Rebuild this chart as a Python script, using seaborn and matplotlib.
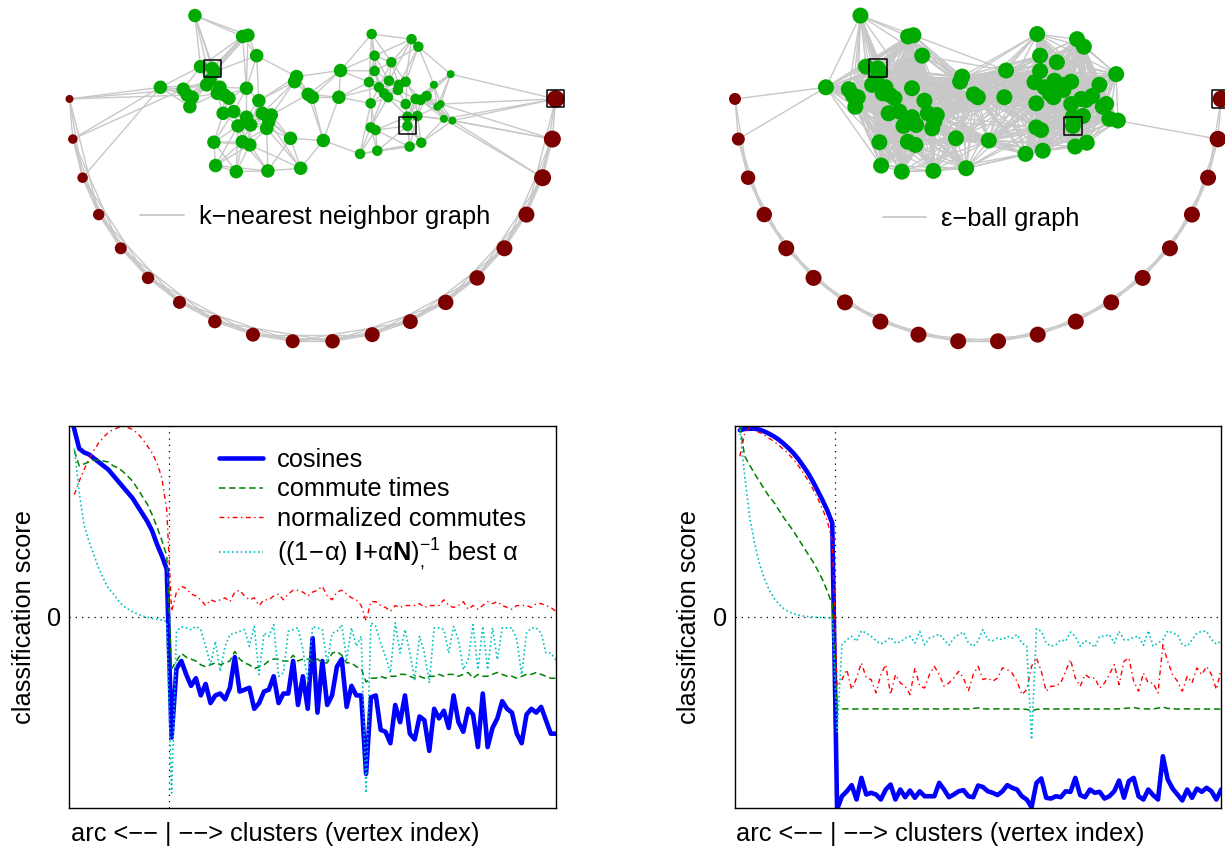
import numpy as np
import matplotlib
matplotlib.use("Agg")
import matplotlib.pyplot as plt
import seaborn as sns
from matplotlib.collections import LineCollection
from matplotlib.lines import Line2D

nan = np.nan

# ------------------------------------------------------------------ graph data
# arc vertices: angle on the unit semicircle (degrees)
arc_angle_deg = [180.0, 189.5, 198.9, 208.4, 217.9, 227.4, 236.8, 246.3, 255.8, 265.3,
                 274.7, 284.2, 293.7, 303.2, 312.6, 322.1, 331.6, 341.1, 350.5, 360.0]
# two clusters of vertices (same layout in both graphs)
cluster_x = [-0.484, -0.288, -0.266, -0.230, -0.461, -0.413, -0.403, -0.626, -0.532, -0.516,
             -0.495, -0.505, -0.436, -0.422, -0.381, -0.392, -0.362, -0.344, -0.272, -0.221,
             -0.368, -0.324, -0.307, -0.272, -0.255, -0.207, -0.170, -0.189, -0.180, -0.406,
             -0.289, -0.258, -0.091, -0.399, -0.314, -0.184, -0.049, -0.066, -0.074, -0.018,
             -0.001, 0.115, 0.108, 0.044,
             0.243, 0.407, 0.435, 0.255, 0.324, 0.255, 0.232, 0.314, 0.273, 0.294,
             0.310, 0.355, 0.383, 0.351, 0.568, 0.499, 0.239, 0.383, 0.424, 0.444,
             0.469, 0.513, 0.527, 0.390, 0.431, 0.390, 0.239, 0.259, 0.540, 0.575,
             0.195, 0.266, 0.399, 0.447]
cluster_y = [0.343, 0.257, 0.262, 0.178, 0.133, 0.126, 0.112, 0.048, 0.040, 0.016,
             0.007, -0.032, 0.058, 0.078, 0.048, 0.023, 0.016, 0.003, 0.044, -0.007,
             -0.059, -0.052, -0.111, -0.075, -0.107, -0.059, -0.066, -0.121, -0.093, -0.178,
             -0.176, -0.189, -0.162, -0.274, -0.299, -0.296, -0.285, 0.092, 0.071, 0.019,
             0.007, 0.117, 0.007, -0.171,
             0.267, 0.246, 0.215, 0.178, 0.151, 0.115, 0.069, 0.075, 0.048, 0.023,
             0.007, 0.058, 0.071, 0.037, 0.102, 0.058, -0.018, -0.021, 0.000, -0.004,
             0.012, -0.032, -0.021, -0.073, -0.070, -0.111, -0.117, -0.128, -0.082, -0.089,
             -0.226, -0.213, -0.196, -0.180]
labeled_arc = [19]
labeled_cluster = [5, 69]
knn_k = 6
eps_radius = 0.425

# ------------------------------------------------------------------ score data
vertex_index = list(range(0, 101))
n_arc = 20

cos_knn = [108, 98, 88, 86, 85, 83, 81, 79, 77, 74, 71, 68, 65, 62, 58, 54, 50, 45, 38, 32, 25,
           -63, -27, -23, -30, -36, -32, -41, -35, -45, -41,
           -40, -43, -37, -21, -39, -38, -37, -48, -45, -39,
           -38, -31, -45, -40, -40, -23, -46, -31, -48, -11,
           -50, -23, -46, -41, -26, -22, -47, -36, -41, -41,
           -82, -42, -41, -59, -60, -66, -46, -55, -41, -61,
           -64, -52, -54, -70, -48, -53, -49, -58, -41, -55,
           -60, -48, -51, -68, -40, -68, -58, -53, -44, -48,
           -50, -61, -66, -51, -48, -50, -47, -54, -61, -61]
commute_knn = [nan, 87, 79, 80, 81, 82, 82, 81.5, 81, 79, 78, 76, 73.5, 71, 67, 63, 59, 53.5, 47, 40, 32,
               -27, -23, -19, -21, -22, -23, -25, -26, -25, -24,
               -25, -24, -23, -18, -22, -24, -25, -27, -26, -25,
               -23, -22, -22, -23, -23, -20, -23, -22, -22, -23,
               -22, -24, -24, -19, -18, -20, -24, -24, -26, -27,
               -34, -32, -32, -31, -32, -31, -31, -30, -30, -31,
               -32, -31, -32, -31, -31, -30, -31, -30, -30, -31,
               -30, -29, -32, -30, -31, -31, -30, -29, -30, -31,
               -31, -32, -31, -30, -30, -29, -30, -31, -32, -32]
normcomm_knn = [nan, 64, 71, 77, 82.6, 87, 91, 94, 96.5, 98, 99, 99.7, 99, 98, 96, 93, 89.5, 85.7, 80.5, 72.6, 56,
                3, 13, 16, 15, 12, 11, 9, 6, 9, 8,
                9, 10, 8, 13, 14, 11, 9, 10, 6, 9,
                9, 11, 12, 9, 12, 14, 14, 13, 11, 13,
                14, 16, 11, 9, 13, 14, 12, 10, 9, 6,
                -2, 8, 8, 6, 5, 3, 6, 5, 6, 6,
                6, 7, 5, 6, 6, 6, 9, 6, 5, 6,
                8, 4, 6, 4, 6, 8, 7, 8, 6, 5,
                4, 6, 6, 6, 5, 7, 7, 6, 5, 3]
alpha_knn = [nan, 88, 65, 48, 39.5, 32.6, 25.6, 20, 15, 12.2, 8.7, 5.9, 4.2, 2.6, 1.6, 0.5, -0.2, -0.7, -1.2, -1.7, -2.4,
             -92, -7.5, -5.2, -5.7, -6.6, -4.9, -6.6, -15.3, -24.9, -12.7,
             -28.4, -15.3, -9.2, -8.4, -7.5, -6.6, -15.3, -4.9, -30.1, -8.4,
             -10.1, -4.0, -31, -29.2, -7.5, -6.6, -5.7, -17, -33.6, -4.9,
             -5.7, -6.6, -24, -8.4, -7.5, -4.0, -22.3, -5.7, -15.3, -10.1,
             -92, -3.1, -4.9, -13.6, -20.5, -29.2, -3.1, -18.8, -6.6, -18.8,
             -32.7, -10.1, -18.8, -34.5, -5.7, -5.7, -6.6, -18.8, -4.9, -11.8,
             -27.5, -22.3, -4.0, -27.5, -4.9, -27.5, -5.7, -22.3, -5.7, -5.7,
             -5.7, -11.8, -30.1, -8.4, -5.7, -5.7, -8.4, -18.8, -18.8, -22.3]

cos_eps = [nan, 97.6, 98.3, 98.4, 98.4, 98, 97, 95.8, 94.4, 92.7, 90.6, 88.3, 85.7, 82.6, 79, 75.3, 70.9, 66, 61, 55.6, 49.1,
           -100.5, -93.7, -91.1, -87.9, -95.4, -84.1, -92.8, -91.9, -92.8, -95.4,
           -90.2, -87.6, -95.4, -90.2, -94.2, -90.7, -94.5, -91.1, -93.7, -93.7,
           -93.7, -86.7, -90.2, -94.2, -92.8, -91.1, -90.5, -93.7, -94.2, -88.1,
           -88.9, -91.1, -91.9, -93.1, -91.1, -87.9, -89.3, -90.2, -93.7, -95.4,
           -99.4, -86.7, -84.4, -94.5, -94.9, -93.7, -94.2, -91.1, -91.4, -84.1,
           -93.1, -94.2, -90.2, -91.9, -91.4, -94.9, -93.7, -91.1, -85.5, -94.5,
           -85.8, -84.1, -93.7, -95.4, -90.2, -93.1, -95.4, -72.8, -84.9, -89.7,
           -92.8, -95.9, -90.2, -94.5, -89.7, -91.4, -89.3, -91.1, -95.4, -90.2]
commute_eps = [nan, 99.6, 84, 79.5, 75, 71, 67, 63, 60, 56, 52, 48.5, 45, 41, 37, 33, 29, 24.5, 19.5, 13.5, 6.5,
               -48.1, -48.1, -48.0, -48.1, -48.1, -48.0, -48.1, -48.1, -48.0, -48.1,
               -48.1, -48.0, -48.1, -48.1, -48.0, -48.1, -48.1, -48.0, -48.1, -48.1,
               -48.0, -48.1, -48.1, -48.0, -48.1, -48.1, -48.0, -48.1, -47.8, -47.5,
               -48.0, -48.1, -48.1, -48.0, -48.1, -48.1, -48.0, -48.1, -48.1, -48.3,
               -49.0, -48.3, -48.1, -48.0, -48.1, -48.1, -48.0, -48.1, -48.1, -48.0,
               -48.1, -48.1, -48.0, -48.1, -48.1, -48.0, -48.1, -48.1, -48.0, -47.8,
               -47.6, -47.3, -47.8, -48.0, -48.1, -48.1, -47.6, -47.1, -47.8, -48.0,
               -48.1, -48.1, -48.0, -48.1, -48.1, -48.0, -48.1, -48.1, -48.1, -48.2]
normcomm_eps = [nan, 84, 96, 99, 97.5, 96.5, 95.2, 93.5, 91.8, 89.8, 87.6, 85.2, 82.4, 79.2, 75.5, 71.5, 67, 62, 56.5, 50, 40,
                -36.2, -32.7, -27.5, -37.9, -31.9, -24.0, -31.9, -32.7, -39.7, -30.1,
                -24.9, -40.6, -30.1, -34.5, -36.2, -40.6, -26.6, -36.2, -37.1, -30.1,
                -25.8, -30.1, -36.2, -34.5, -31.9, -28.4, -31.9, -38.8, -30.1, -25.8,
                -32.7, -31.9, -33.6, -31.9, -26.6, -27.5, -29.3, -33.6, -40.6, -37.9,
                -25.8, -21.4, -28.4, -38.8, -36.2, -36.2, -34.5, -28.4, -22.3, -31.9,
                -36.2, -30.1, -31.9, -31.9, -37.1, -34.5, -30.1, -24.9, -35.4, -23.2,
                -21.4, -33.6, -38.8, -29.3, -34.5, -34.5, -39.7, -14.5, -23.2, -30.1,
                -33.6, -38.8, -31.0, -34.5, -26.6, -30.1, -25.8, -30.1, -37.9, -27.5]
alpha_eps = [nan, 98, 73.5, 52.6, 38.7, 28.2, 20.4, 14.3, 9.9, 6.8, 4.4, 2.8, 1.7, 1, 0.5, 0.2, 0, -0.2, -0.3, -0.5, -0.7,
             -60, -14.5, -11.9, -10.1, -12.7, -7.2, -8.4, -10.1, -12.4, -14.1,
             -12.7, -10.6, -13.6, -13.1, -11.0, -10.1, -13.6, -7.5, -14.5, -11.0,
             -10.1, -8.9, -11.9, -14.8, -11.0, -9.2, -7.9, -13.6, -15.3, -12.7,
             -6.6, -11.9, -12.4, -11.0, -11.9, -10.1, -11.0, -9.2, -13.6, -15.3,
             -64.1, -6.1, -7.5, -13.6, -15.3, -14.5, -11.9, -12.7, -7.9, -10.1,
             -15.3, -12.4, -13.6, -15.9, -10.1, -10.1, -9.2, -13.6, -7.5, -11.9,
             -11.9, -10.6, -10.1, -14.8, -7.2, -15.3, -13.6, -11.9, -7.2, -8.4,
             -9.2, -14.5, -15.3, -11.9, -8.4, -7.5, -7.5, -11.9, -14.1, -12.7]

series_labels = ["cosines", "commute times", "normalized commutes",
                 r"$((1\!-\!\alpha)\,\,\mathbf{I}\!+\!\alpha\mathbf{N})^{-1}_{,}$ best $\alpha$"]

# ------------------------------------------------------------------ styles
ARC_RED = "#7d0000"
CL_GREEN = "#00aa00"
EDGE_GRAY = "#c8c8c8"
PX = 0.72  # points per pixel at 100 dpi

arc_diam_knn = [8, 9.5, 10.5, 11.5, 12, 12.5, 13, 13.5, 14, 14,
                14.5, 15, 15, 15.5, 15.5, 16, 16, 17, 17, 17.5]
arc_diam_eps = [12, 13, 14.5, 15.5, 16, 16, 16, 16, 16, 16,
                16, 16, 16, 16, 16, 16, 16, 16, 16.5, 17]

sns.set_theme(style="white")
plt.rcParams.update({
    "font.family": ["Liberation Sans", "DejaVu Sans"],
    "font.size": 18.3,
    "mathtext.fontset": "custom",
    "mathtext.rm": "Liberation Sans",
    "mathtext.it": "Liberation Sans",
    "mathtext.bf": "Liberation Sans:bold",
    "mathtext.sf": "Liberation Sans",
    "axes.edgecolor": "black",
    "axes.linewidth": 1.0,
    "text.color": "black",
    "axes.labelcolor": "black",
    "xtick.color": "black",
    "ytick.color": "black",
    "legend.labelcolor": "black",
})

fig = plt.figure(figsize=(12.25, 8.48), dpi=100)
ax_g1 = fig.add_axes([0.05673, 0.5519, 0.3969, 0.4481])
ax_g2 = fig.add_axes([0.6, 0.5519, 0.3969, 0.4481])
ax_p1 = fig.add_axes([0.05673, 0.04682, 0.3969, 0.4512])
ax_p2 = fig.add_axes([0.6, 0.04682, 0.3969, 0.4512])

# ------------------------------------------------------------------ graphs
ang = np.deg2rad(np.array(arc_angle_deg))
arc_x = np.cos(ang)
arc_y = np.sin(ang)
all_x = np.concatenate([arc_x, np.array(cluster_x)])
all_y = np.concatenate([arc_y, np.array(cluster_y)])
pts = np.column_stack([all_x, all_y])
n_nodes = len(pts)
dist = np.sqrt(((pts[:, None, :] - pts[None, :, :]) ** 2).sum(-1))

knn_edges = set()
nearest = np.argsort(dist, axis=1)[:, 1:knn_k + 1]
for i in range(n_nodes):
    for j in nearest[i]:
        knn_edges.add((min(i, j), max(i, j)))
iu, ju = np.triu_indices(n_nodes, 1)
eps_edges = [(i, j) for i, j in zip(iu, ju) if dist[i, j] < eps_radius]

n_left = 44
clu_diam_knn = []
for k, (cx, cy) in enumerate(zip(cluster_x, cluster_y)):
    if k < n_left:
        clu_diam_knn.append(13.5)
    elif cx > 0.49:
        clu_diam_knn.append(8.0)
    else:
        clu_diam_knn.append(10.5)
clu_diam_eps = [16.0] * len(cluster_x)


def draw_graph(ax, edges, arc_d, clu_d, label, anchor, hl, htp, sq_side):
    segs = [[pts[i], pts[j]] for i, j in edges]
    ax.add_collection(LineCollection(segs, colors=EDGE_GRAY, linewidths=1.0, zorder=1))
    sns.scatterplot(x=arc_x, y=arc_y, s=(PX * np.array(arc_d)) ** 2, color=ARC_RED,
                    edgecolor="none", linewidth=0, ax=ax, zorder=3, clip_on=False, legend=False)
    sns.scatterplot(x=np.array(cluster_x), y=np.array(cluster_y), s=(PX * np.array(clu_d)) ** 2,
                    color=CL_GREEN, edgecolor="none", linewidth=0, ax=ax, zorder=3,
                    clip_on=False, legend=False)
    lx = [arc_x[i] for i in labeled_arc] + [cluster_x[i] for i in labeled_cluster]
    ly = [arc_y[i] for i in labeled_arc] + [cluster_y[i] for i in labeled_cluster]
    ax.scatter(lx, ly, marker="s", s=(PX * sq_side) ** 2, facecolors="none",
               edgecolors="black", linewidths=1.1, zorder=4, clip_on=False)
    ax.set_xlim(-1, 1)
    ax.set_ylim(-1.156, 0.407)
    ax.axis("off")
    ax.legend(handles=[Line2D([], [], color=EDGE_GRAY, lw=1.3)], labels=[label],
              loc="center left", bbox_to_anchor=anchor, bbox_transform=ax.transData,
              frameon=False, borderpad=0, borderaxespad=0, handlelength=hl,
              handletextpad=htp, fontsize=18.3, labelcolor="black")


draw_graph(ax_g1, sorted(knn_edges), arc_diam_knn, clu_diam_knn,
           "k\u2212nearest neighbor graph", (-0.708, -0.486), 1.7, 0.6, 17)
draw_graph(ax_g2, eps_edges, arc_diam_eps, clu_diam_eps,
           "\u03b5\u2212ball graph", (-0.393, -0.495), 1.7, 0.58, 18)

# ------------------------------------------------------------------ score plots
line_styles = [
    dict(color="#0000ff", linewidth=3.3, linestyle="-"),
    dict(color="#008000", linewidth=1.1, linestyle=(0, (4.2, 2.4))),
    dict(color="#ff0000", linewidth=1.0, linestyle=(0, (3.5, 2.5, 1.0, 2.5))),
    dict(color="#00bfbf", linewidth=1.2, linestyle=(0, (1.0, 1.6))),
]


def score_panel(ax, series, with_legend):
    ax.axhline(0, color="black", linestyle=(0, (1, 4)), linewidth=0.9, zorder=1)
    ax.axvline(n_arc + 0.5, color="black", linestyle=(0, (1, 4)), linewidth=0.9, zorder=1)
    handles = []
    for vals, st in zip(series, line_styles):
        sns.lineplot(x=vertex_index, y=vals, ax=ax, errorbar=None, zorder=2, **st)
        handles.append(ax.lines[-1])
    ax.set_xlim(0, 100)
    ax.set_ylim(-100, 100)
    ax.set_xticks([])
    ax.set_yticks([0])
    ax.set_yticklabels(["0"])
    ax.tick_params(axis="y", length=0, pad=6, labelsize=18.3, labelcolor="black")
    for sp in ax.spines.values():
        sp.set_visible(True)
        sp.set_color("black")
        sp.set_linewidth(1.0)
    ax.set_ylabel("classification score", fontsize=18.3, color="black")
    ax.yaxis.set_label_coords(-0.069, 0.5)
    ax.set_xlabel("arc <\u2212\u2212 | \u2212\u2212> clusters (vertex index)", fontsize=18.3,
                  loc="left", color="black")
    ax.xaxis.set_label_coords(0.003, -0.035)
    if with_legend:
        ax.legend(handles, series_labels, loc="upper left", bbox_to_anchor=(0.307, 0.942),
                  frameon=False, borderpad=0, borderaxespad=0, handlelength=1.75,
                  handletextpad=0.55, labelspacing=0.22, fontsize=18.3, labelcolor="black")
    else:
        leg = ax.get_legend()
        if leg is not None:
            leg.remove()


score_panel(ax_p1, [cos_knn, commute_knn, normcomm_knn, alpha_knn], True)
score_panel(ax_p2, [cos_eps, commute_eps, normcomm_eps, alpha_eps], False)

fig.savefig("out.png", dpi=100)
